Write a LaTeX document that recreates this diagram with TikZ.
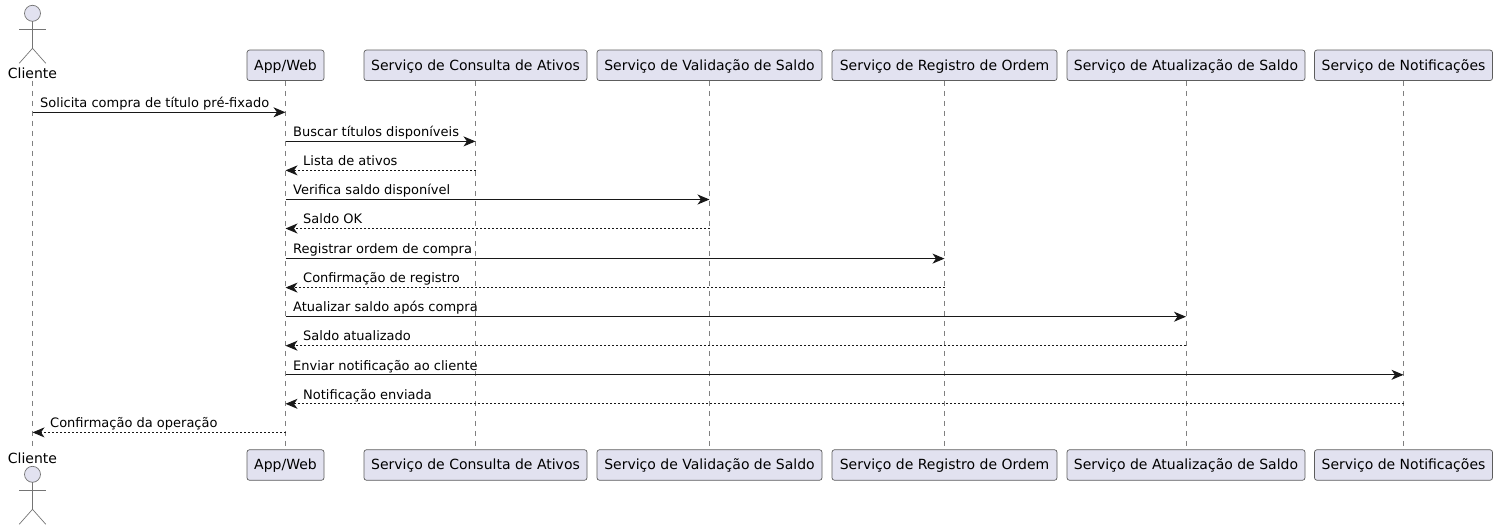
\documentclass[tikz,border=0pt]{standalone}
\usepackage{fontspec}
\setmainfont{DejaVu Sans}
\usetikzlibrary{arrows.meta}
\definecolor{boxfill}{HTML}{E2E2F0}
\definecolor{boxline}{HTML}{181818}
\tikzset{
  partbox/.style={draw=boxline!70, fill=boxfill, line width=0.7pt, rounded corners=2.5pt,
    minimum height=30.5pt, inner sep=0pt, text height=10.5pt, text depth=1pt,
    font=\fontsize{14}{16}\selectfont, text=black},
  actorname/.style={inner sep=0pt, anchor=base, font=\fontsize{14}{16}\selectfont, text=black},
  lifeline/.style={draw=boxline!55, line width=0.6pt, dash pattern=on 5pt off 5pt},
  actorline/.style={draw=boxline!60, line width=0.7pt},
  msgline/.style={draw=boxline, line width=1pt, -{Stealth[length=12pt,width=10pt,inset=3.5pt]}},
  retline/.style={msgline, dash pattern=on 2pt off 2pt},
  msglabel/.style={inner sep=0pt, anchor=base west, font=\fontsize{13}{15}\selectfont, text=black},
  actorfig/.pic={
    \draw[actorline, fill=boxfill] (0,8) circle (8);
    \draw[actorline] (0,16) -- (0,43);
    \draw[actorline] (-13.3,24) -- (13.3,24);
    \draw[actorline] (-13.3,58) -- (0,43) -- (13.3,58);
  }
}
\begin{document}
\begin{tikzpicture}[x=1pt, y=-1pt]
  \useasboundingbox (0,0) rectangle (1498,530);
  % actor at both ends
  \pic at (32.5,5.3) {actorfig};
  \pic at (32.5,466.3) {actorfig};
  \node[actorname] (cliTop) at (32.5,78) {Cliente};
  \node[actorname] (cliBot) at (32.5,463.4) {Cliente};
  % participant boxes, top row
  \node[partbox, minimum width=77pt] (appTop) at (285.5,65.3) {App/Web};
  \node[partbox, minimum width=223pt] (consTop) at (475.5,65.3) {Serviço de Consulta de Ativos};
  \node[partbox, minimum width=225pt] (valTop) at (709.5,65.3) {Serviço de Validação de Saldo};
  \node[partbox, minimum width=225pt] (regTop) at (944.5,65.3) {Serviço de Registro de Ordem};
  \node[partbox, minimum width=238pt] (atuTop) at (1186,65.3) {Serviço de Atualização de Saldo};
  \node[partbox, minimum width=178pt] (notTop) at (1403.5,65.3) {Serviço de Notificações};
  % participant boxes, bottom row
  \node[partbox, minimum width=77pt] (appBot) at (285.5,465) {App/Web};
  \node[partbox, minimum width=223pt] (consBot) at (475.5,465) {Serviço de Consulta de Ativos};
  \node[partbox, minimum width=225pt] (valBot) at (709.5,465) {Serviço de Validação de Saldo};
  \node[partbox, minimum width=225pt] (regBot) at (944.5,465) {Serviço de Registro de Ordem};
  \node[partbox, minimum width=238pt] (atuBot) at (1186,465) {Serviço de Atualização de Saldo};
  \node[partbox, minimum width=178pt] (notBot) at (1403.5,465) {Serviço de Notificações};
  % life lines
  \coordinate (cliA) at (32.5,80.5);
  \coordinate (cliB) at (32.5,449.5);
  \draw[lifeline] (cliA) -- (cliB);
  \draw[lifeline] (appTop) -- (appBot);
  \draw[lifeline] (consTop) -- (consBot);
  \draw[lifeline] (valTop) -- (valBot);
  \draw[lifeline] (regTop) -- (regBot);
  \draw[lifeline] (atuTop) -- (atuBot);
  \draw[lifeline] (notTop) -- (notBot);
  % message rows
  \coordinate (m1) at (0,112.3);
  \coordinate (m2) at (0,141.4);
  \coordinate (m3) at (0,170.4);
  \coordinate (m4) at (0,199.5);
  \coordinate (m5) at (0,228.5);
  \coordinate (m6) at (0,258.6);
  \coordinate (m7) at (0,287.6);
  \coordinate (m8) at (0,316.7);
  \coordinate (m9) at (0,345.7);
  \coordinate (m10) at (0,374.8);
  \coordinate (m11) at (0,403.8);
  \coordinate (m12) at (0,432.4);
  % messages
  \draw[msgline] (cliA |- m1) -- (appTop |- m1);
  \draw[msgline] (appTop |- m2) -- (consTop |- m2);
  \draw[retline] (consTop |- m3) -- (appTop |- m3);
  \draw[msgline] (appTop |- m4) -- (valTop |- m4);
  \draw[retline] (valTop |- m5) -- (appTop |- m5);
  \draw[msgline] (appTop |- m6) -- (regTop |- m6);
  \draw[retline] (regTop |- m7) -- (appTop |- m7);
  \draw[msgline] (appTop |- m8) -- (atuTop |- m8);
  \draw[retline] (atuTop |- m9) -- (appTop |- m9);
  \draw[msgline] (appTop |- m10) -- (notTop |- m10);
  \draw[retline] (notTop |- m11) -- (appTop |- m11);
  \draw[retline] (appTop |- m12) -- (cliA |- m12);
  % message labels
  \node[msglabel] (t1) at (40,107.3) {Solicita compra de título pré-fixado};
  \node[msglabel] (t2) at (293,136.6) {Buscar títulos disponíveis};
  \node[msglabel] (t3) at (303,165.8) {Lista de ativos};
  \node[msglabel] (t4) at (293,194.8) {Verifica saldo disponível};
  \node[msglabel] (t5) at (303,223.8) {Saldo OK};
  \node[msglabel] (t6) at (293,253.6) {Registrar ordem de compra};
  \node[msglabel] (t7) at (303,282.8) {Confirmação de registro};
  \node[msglabel] (t8) at (293,311.7) {Atualizar saldo após compra};
  \node[msglabel] (t9) at (303,340.8) {Saldo atualizado};
  \node[msglabel] (t10) at (293,370) {Enviar notificação ao cliente};
  \node[msglabel] (t11) at (303,399) {Notificação enviada};
  \node[msglabel] (t12) at (50,427.8) {Confirmação da operação};
\end{tikzpicture}
\end{document}
